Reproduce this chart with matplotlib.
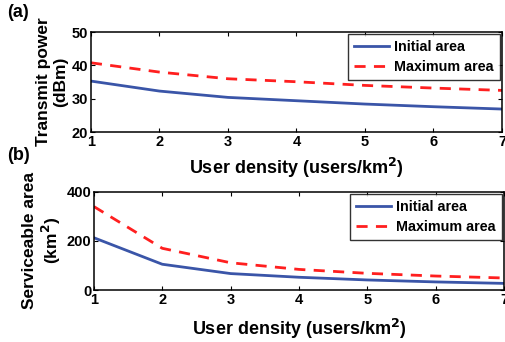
import matplotlib
matplotlib.use("Agg")
import matplotlib.pyplot as plt

plt.rcParams['font.family'] = ['Liberation Sans', 'DejaVu Sans']
plt.rcParams['font.weight'] = 'bold'
plt.rcParams['mathtext.default'] = 'bf'

density = [1, 2, 3, 4, 5, 6, 7]
power_initial = [35.3, 32.3, 30.4, 29.4, 28.4, 27.6, 26.9]
power_maximum = [40.8, 38.0, 36.0, 35.1, 34.0, 33.2, 32.5]
area_initial = [213, 105, 67, 52, 41, 33, 27]
area_maximum = [340, 170, 111, 84, 68, 57, 49]

blue = '#3a55a8'
red = '#ff1f1f'

fig = plt.figure(figsize=(5.05, 3.42), dpi=100)
ax1 = fig.add_axes([0.180, 0.614, 0.814, 0.292])
ax2 = fig.add_axes([0.186, 0.152, 0.812, 0.287])

def style(ax):
    for s in ax.spines.values():
        s.set_linewidth(1.1)
    ax.tick_params(direction='in', top=True, right=True, length=3, width=0.8,
                   labelsize=10.5, pad=2)
    for lab in ax.get_xticklabels() + ax.get_yticklabels():
        lab.set_fontweight('bold')

def legend(ax):
    leg = ax.legend(loc='upper right', fontsize=10.3, frameon=True, fancybox=False,
                    edgecolor='black', handlelength=2.5, borderpad=0.4, labelspacing=0.45,
                    handletextpad=0.35, borderaxespad=0.15)
    leg.get_frame().set_linewidth(1.0)
    for t in leg.get_texts():
        t.set_fontweight('bold')

ax1.plot(density, power_initial, color=blue, lw=2.0, label='Initial area')
ax1.plot(density, power_maximum, color=red, lw=2.0, ls=(0, (4, 3)), label='Maximum area')
ax1.set_xlim(1, 7)
ax1.set_ylim(20, 50)
ax1.set_xticks(density)
ax1.set_yticks([20, 30, 40, 50])
ax1.set_xlabel('User density (users/km$^2$)', fontsize=13, fontweight='bold')
ax1.set_ylabel('Transmit power\n(dBm)', fontsize=12.5, fontweight='bold', linespacing=1.15)
ax1.xaxis.set_label_coords(0.5, -0.24)
ax1.yaxis.set_label_coords(-0.056, 0.5)
style(ax1)
legend(ax1)

ax2.plot(density, area_initial, color=blue, lw=2.0, label='Initial area')
ax2.plot(density, area_maximum, color=red, lw=2.0, ls=(0, (4, 3)), label='Maximum area')
ax2.set_xlim(1, 7)
ax2.set_ylim(0, 400)
ax2.set_xticks(density)
ax2.set_yticks([0, 200, 400])
ax2.set_xlabel('User density (users/km$^2$)', fontsize=13, fontweight='bold')
ax2.set_ylabel('Serviceable area\n(km$^2$)', fontsize=12.5, fontweight='bold', linespacing=1.15)
ax2.xaxis.set_label_coords(0.5, -0.27)
ax2.yaxis.set_label_coords(-0.076, 0.5)
style(ax2)
legend(ax2)

fig.text(0.014, 0.962, '(a)', fontsize=13, fontweight='bold', va='center')
fig.text(0.014, 0.546, '(b)', fontsize=13, fontweight='bold', va='center')

fig.savefig('out.png', dpi=100)
